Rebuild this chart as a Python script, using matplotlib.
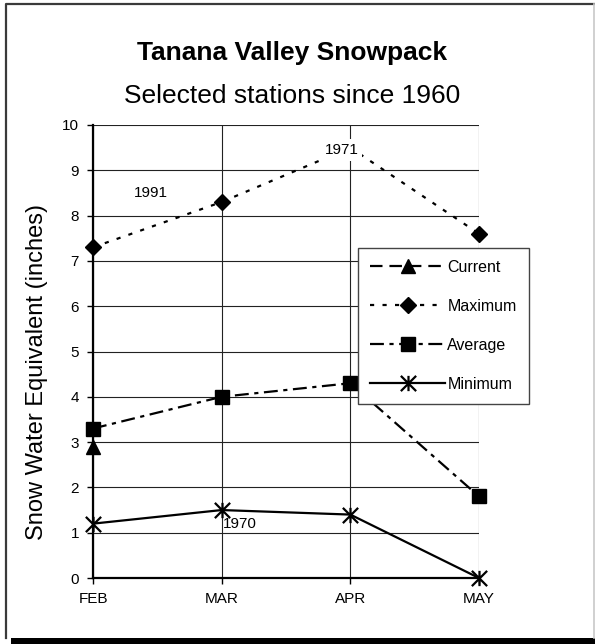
import matplotlib
matplotlib.use("Agg")
import matplotlib.pyplot as plt
import numpy as np
from matplotlib.path import Path
from matplotlib.patches import Rectangle
from matplotlib.lines import Line2D

plt.rcParams['font.family'] = ['Liberation Sans', 'DejaVu Sans']
plt.rcParams['lines.scale_dashes'] = False

months = ["FEB", "MAR", "APR", "MAY"]
current = [2.9, np.nan, np.nan, np.nan]
maximum = [7.3, 8.3, 9.5, 7.6]
average = [3.3, 4.0, 4.3, 1.8]
minimum = [1.2, 1.5, 1.4, 0.0]
yticks = list(range(0, 11))

W, H = 595, 644
fig = plt.figure(figsize=(W / 100, H / 100), dpi=100)

# outer frame with shadow
fig.patches.append(Rectangle((11 / W, 0), (W - 11) / W, 6 / H, transform=fig.transFigure,
                             facecolor='black', edgecolor='none', zorder=0))
fx0, fx1, fy0, fy1 = 6 / W, 594 / W, 6 / H, 1 - 4 / H
fig.lines.append(Line2D([fx0, fx0, fx1], [fy0, fy1, fy1], transform=fig.transFigure,
                        color='#3a3a3a', lw=1.6))
fig.lines.append(Line2D([fx1, fx1], [fy0, fy1], transform=fig.transFigure,
                        color='#c8c8c8', lw=1.2))

L, R, T, B = 93, 479, 125, 578
ax = fig.add_axes([L / W, 1 - B / H, (R - L) / W, (B - T) / H])
ax.set_zorder(2)
ax.patch.set_alpha(0)

x = np.arange(len(months))

star = Path([(-1, -1), (1, 1), (-1, 1), (1, -1), (0, -1), (0, 1)],
            [Path.MOVETO, Path.LINETO, Path.MOVETO, Path.LINETO, Path.MOVETO, Path.LINETO])

ax.plot(x, current, color='black', lw=1.6, dashes=(9, 5), marker='^', ms=10,
        label='Current', clip_on=False, zorder=5)
ax.plot(x, maximum, color='black', lw=1.6, dashes=(3, 6), marker='D', ms=8,
        label='Maximum', clip_on=False, zorder=5)
ax.plot(x, average, color='black', lw=1.6, dashes=(10, 4, 3, 4), marker='s', ms=10,
        label='Average', clip_on=False, zorder=5)
ax.plot(x, minimum, color='black', lw=1.6, marker=star, ms=11, mew=1.6,
        label='Minimum', clip_on=False, zorder=5)

ax.set_xlim(0, 3)
ax.set_ylim(0, 10)
ax.set_xticks(x)
ax.set_xticklabels(months)
ax.set_yticks(yticks)
ax.tick_params(axis='both', labelsize=11, length=4, width=1, direction='out', pad=6)
ax.grid(True, color='#222222', lw=0.8)
for s in ['top', 'right']:
    ax.spines[s].set_visible(False)
ax.spines['left'].set_linewidth(1.6)
ax.spines['bottom'].set_linewidth(1.6)
ax.set_axisbelow(True)

ax.text(0.45, 8.5, "1991", fontsize=11, ha='center', va='center', zorder=6)
ax.text(1.14, 1.19, "1970", fontsize=11, ha='center', va='center', zorder=6)
ax.text(1.93, 9.45, "1971", fontsize=11, ha='center', va='center', zorder=7,
        bbox=dict(facecolor='white', edgecolor='none', pad=3))

fig.text(292 / W, 1 - 60 / H, "Tanana Valley Snowpack", fontsize=19, fontweight='bold',
         ha='center', va='baseline')
fig.text(292 / W, 1 - 103 / H, "Selected stations since 1960", fontsize=19,
         ha='center', va='baseline')
fig.text(37 / W, 1 - 372 / H, "Snow Water Equivalent (inches)", fontsize=17,
         rotation=90, ha='center', va='center')

leg = ax.legend(loc='upper left', bbox_to_anchor=((358 - L) / (R - L), (B - 248) / (B - T)),
                fontsize=11.5, handlelength=4.7, handletextpad=0.15, labelspacing=1.5,
                borderpad=0.75, borderaxespad=0, fancybox=False, framealpha=1,
                edgecolor='#444444')
leg.get_frame().set_linewidth(1.0)
leg.set_zorder(10)

fig.savefig("out.png", dpi=100)
